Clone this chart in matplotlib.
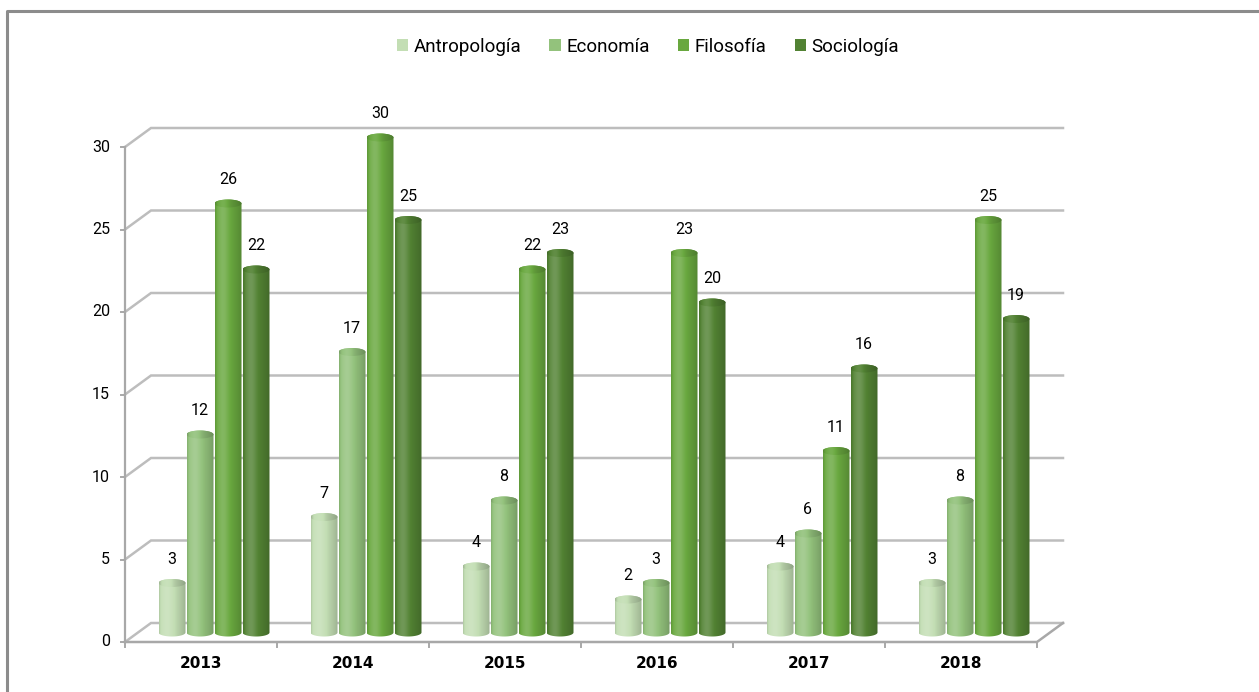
import numpy as np
import matplotlib
matplotlib.use('Agg')
import matplotlib.pyplot as plt
from matplotlib.path import Path
from matplotlib.patches import PathPatch, Ellipse, Patch
from matplotlib import font_manager as fm
from matplotlib.colors import to_rgb

# ---------------- data ----------------
years = ['2013', '2014', '2015', '2016', '2017', '2018']
series = ['Antropología', 'Economía', 'Filosofía', 'Sociología']
antropologia = [3, 7, 4, 2, 4, 3]
economia = [12, 17, 8, 3, 6, 8]
filosofia = [26, 30, 22, 23, 11, 25]
sociologia = [22, 25, 23, 20, 16, 19]
yticks = [0, 5, 10, 15, 20, 25, 30]
colors = ['#c3deb4', '#93c27c', '#69a83f', '#528233']

values = [antropologia, economia, filosofia, sociologia]

# ---------------- fonts ----------------
names = {f.name for f in fm.fontManager.ttflist}
if 'Liberation Sans Narrow' in names:
    FONT = ['Liberation Sans Narrow', 'DejaVu Sans']
elif 'Roboto' in names:
    FONT = ['Roboto', 'DejaVu Sans']
else:
    FONT = ['DejaVu Sans']
plt.rcParams['font.family'] = FONT

# ---------------- layout (pixels) ----------------
W, H = 1259, 692
X0, CW = 125, 152          # front axis origin x, category width (px)
Y0, PU = 642, 16.5         # front axis origin y, px per unit


def px(x):
    return (x - X0) / CW


def py(y):
    return (Y0 - y) / PU


DX = 26 / CW               # depth offset (data units)
DY = 19 / PU
ncat = len(years)
ymax = yticks[-1]

fig = plt.figure(figsize=(W / 100, H / 100), dpi=100)
ax = fig.add_axes([0, 0, 1, 1])
ax.axis('off')

GRID = '#bdbdbd'
AXC = '#a8a8a8'

# outer border
ax.plot([px(7), px(7), px(W)], [py(H), py(11), py(11)], color='#8c8c8c',
        lw=2.2, clip_on=False, solid_capstyle='butt')

# back wall gridlines and left wall slants
for v in yticks:
    ax.plot([0, DX, ncat + DX], [v, v + DY, v + DY], color=GRID, lw=1.8,
            zorder=1, solid_joinstyle='miter')
    ax.plot([px(X0 - 4), 0], [v, v], color=AXC, lw=1.4, zorder=1)
    ax.text(px(110), v, str(v), ha='right', va='center', fontsize=11.5,
            color='#000000')

# front axis lines
ax.plot([0, 0], [0, ymax], color=AXC, lw=1.6, zorder=1)
ax.plot([0, ncat, ncat + DX], [0, 0, DY], color=AXC, lw=1.8, zorder=1)
for k in range(ncat + 1):
    ax.plot([k, k], [0, py(Y0 + 5)], color=AXC, lw=1.4, zorder=1)
for i, yr in enumerate(years):
    ax.text(i + 0.5, py(663), yr, ha='center', va='center', fontsize=11,
            fontweight='bold', color='#000000', family=['DejaVu Sans'])

# ---------------- cylinders ----------------
bw = 27 / CW
sp = 28 / CW
base = DY / 2
eh = 8 / PU
t = np.linspace(0, 1, 80)
prof = (0.18 * np.exp(-((t - 0.30) / 0.22) ** 2)
        - 0.20 * t ** 3
        - 0.12 * np.exp(-(t / 0.06) ** 2))


def shade(c, s):
    c = np.array(to_rgb(c))
    s = np.asarray(s)[:, None]
    out = np.where(s > 0, c + (1 - c) * s, c * (1 + s))
    return np.clip(out, 0, 1)


theta_low = np.linspace(np.pi, 2 * np.pi, 40)
theta_up = np.linspace(0, np.pi, 40)

for j, (vals, col) in enumerate(zip(values, colors)):
    body = shade(col, prof)[None, :, :]
    topimg = shade(col, prof - 0.08)[None, :, :]
    for i, v in enumerate(vals):
        xc = i + 0.5 + DX / 2 + (j - 1.5) * sp
        x0, x1 = xc - bw / 2, xc + bw / 2
        top = base + v
        verts = [(x0, top), (x0, base)]
        verts += [(xc + bw / 2 * np.cos(a), base + eh / 2 * np.sin(a))
                  for a in theta_low]
        verts += [(x1, top)]
        verts += [(xc + bw / 2 * np.cos(a), top + eh / 2 * np.sin(a))
                  for a in theta_up]
        verts += [(x0, top)]
        path = Path(verts, closed=False)
        patch = PathPatch(path, facecolor='none', edgecolor='none')
        ax.add_patch(patch)
        im = ax.imshow(body, extent=[x0, x1, base - eh, top + eh],
                       aspect='auto', interpolation='bilinear', zorder=3)
        im.set_clip_path(patch)
        ell = Ellipse((xc, top), bw, eh, facecolor='none', edgecolor='none')
        ax.add_patch(ell)
        im2 = ax.imshow(topimg, extent=[x0, x1, top - eh, top + eh],
                        aspect='auto', interpolation='bilinear', zorder=4)
        im2.set_clip_path(ell)
        ax.text(xc, top + 24 / PU, str(v), ha='center', va='center',
                fontsize=11.5, color='#000000', zorder=5)

ax.set_xlim(px(0), px(W))
ax.set_ylim(py(H), py(0))

# ---------------- legend ----------------
handles = [Patch(facecolor=c, edgecolor='none') for c in colors]
fig.legend(handles, series, loc='center', bbox_to_anchor=(648 / W, 1 - 47 / H),
           ncol=4, frameon=False, fontsize=13.5, handlelength=0.6,
           handleheight=0.6, handletextpad=0.3, columnspacing=1.5)

fig.savefig('out.png', dpi=100)
